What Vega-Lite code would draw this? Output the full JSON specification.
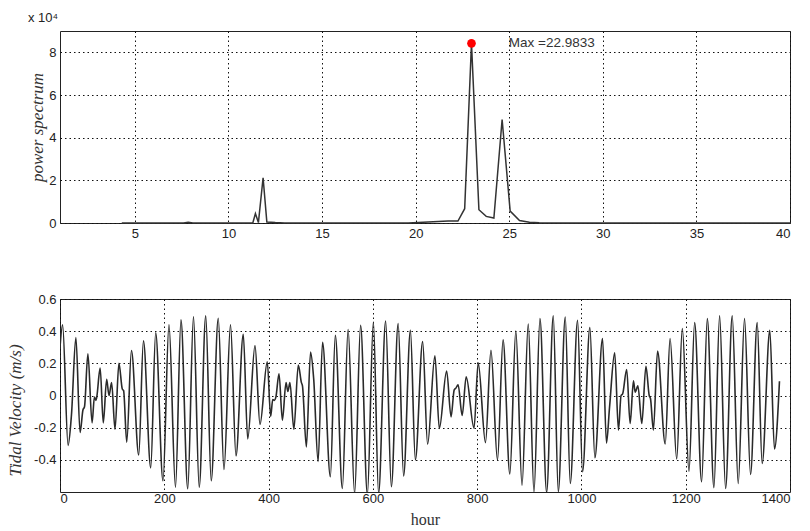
{
  "$schema": "https://vega.github.io/schema/vega-lite/v6.json",
  "background": "white",
  "padding": {"left": 5, "top": 11, "right": 5, "bottom": 5},
  "spacing": 51,
  "config": {
    "view": {"stroke": "#222", "strokeWidth": 1},
    "axis": {
      "labelFont": "Liberation Sans", "labelFontSize": 13, "labelColor": "#222", "labelPadding": 4,
      "titleFont": "Liberation Serif", "titleFontSize": 17, "titleFontStyle": "italic", "titleFontWeight": "normal", "titleColor": "#333",
      "grid": true, "gridColor": "#111", "gridDash": [1.5, 3], "gridWidth": 1, "gridOpacity": 1,
      "domain": false, "ticks": false
    }
  },
  "datasets": {
    "spectrum": [
      {"period": 4.3, "power": 0}, {"period": 7.6, "power": 0}, {"period": 7.85, "power": 0.03}, {"period": 8.1, "power": 0},
      {"period": 11.3, "power": 0}, {"period": 11.44, "power": 0.44}, {"period": 11.6, "power": 0.02}, {"period": 11.85, "power": 2.12},
      {"period": 12.05, "power": 0.05}, {"period": 12.5, "power": 0.02}, {"period": 13, "power": 0}, {"period": 19.6, "power": 0},
      {"period": 21.74, "power": 0.09}, {"period": 22.26, "power": 0.09}, {"period": 22.62, "power": 0.67}, {"period": 22.9833, "power": 8.42},
      {"period": 23.38, "power": 0.62}, {"period": 23.77, "power": 0.31}, {"period": 24.18, "power": 0.23}, {"period": 24.62, "power": 4.85},
      {"period": 25.05, "power": 0.56}, {"period": 25.55, "power": 0.12}, {"period": 26.08, "power": 0.03}, {"period": 26.6, "power": 0.01},
      {"period": 28, "power": 0}, {"period": 40, "power": 0}
    ],
    "maxpoint": [{"period": 22.9833, "power": 8.42, "labelx": 24.98, "label": "Max =22.9833"}],
    "velocity": [
      {"hour": 0, "v": 0.30}, {"hour": 5, "v": 0.44}, {"hour": 15.5, "v": -0.31}, {"hour": 22, "v": -0.12}, {"hour": 30.5, "v": 0.36},
      {"hour": 38.5, "v": -0.23}, {"hour": 44, "v": -0.09}, {"hour": 47, "v": -0.07}, {"hour": 53.5, "v": 0.26}, {"hour": 61.5, "v": -0.17},
      {"hour": 66, "v": -0.01}, {"hour": 69, "v": -0.03}, {"hour": 70.5, "v": -0.01}, {"hour": 77, "v": 0.17}, {"hour": 83, "v": -0.17},
      {"hour": 89.5, "v": 0.10}, {"hour": 94, "v": 0.0}, {"hour": 99, "v": 0.08}, {"hour": 105.5, "v": -0.21}, {"hour": 113, "v": 0.20},
      {"hour": 119.5, "v": 0.04}, {"hour": 122, "v": 0.03}, {"hour": 128, "v": -0.29}, {"hour": 137, "v": 0.28}, {"hour": 151, "v": -0.37},
      {"hour": 160, "v": 0.34}, {"hour": 174, "v": -0.45}, {"hour": 183.5, "v": 0.39}, {"hour": 197.5, "v": -0.53}, {"hour": 209, "v": 0.44},
      {"hour": 221.5, "v": -0.57}, {"hour": 232, "v": 0.47}, {"hour": 245, "v": -0.58}, {"hour": 256, "v": 0.49}, {"hour": 267, "v": -0.57},
      {"hour": 279.5, "v": 0.495}, {"hour": 290, "v": -0.53}, {"hour": 303.5, "v": 0.48}, {"hour": 314.5, "v": -0.46}, {"hour": 327, "v": 0.44},
      {"hour": 337.5, "v": -0.375}, {"hour": 351.5, "v": 0.38}, {"hour": 360, "v": -0.27}, {"hour": 374, "v": 0.31}, {"hour": 383.5, "v": -0.18},
      {"hour": 397.5, "v": 0.21}, {"hour": 404, "v": -0.13}, {"hour": 408, "v": -0.025}, {"hour": 411, "v": -0.03}, {"hour": 414, "v": -0.01},
      {"hour": 420, "v": 0.135}, {"hour": 426.5, "v": -0.153}, {"hour": 433.5, "v": 0.08}, {"hour": 437, "v": 0.025}, {"hour": 441, "v": 0.08},
      {"hour": 448.5, "v": -0.21}, {"hour": 457, "v": 0.19}, {"hour": 463, "v": 0.08}, {"hour": 465, "v": 0.06}, {"hour": 472.5, "v": -0.32},
      {"hour": 480.5, "v": 0.27}, {"hour": 486.5, "v": 0.105}, {"hour": 495, "v": -0.41}, {"hour": 503.5, "v": 0.33}, {"hour": 518.5, "v": -0.505},
      {"hour": 528, "v": 0.375}, {"hour": 541.5, "v": -0.578}, {"hour": 552.5, "v": 0.41}, {"hour": 565, "v": -0.61}, {"hour": 576.5, "v": 0.436},
      {"hour": 589.5, "v": -0.615}, {"hour": 601, "v": 0.457}, {"hour": 611, "v": -0.61}, {"hour": 624.5, "v": 0.463}, {"hour": 635.5, "v": -0.567},
      {"hour": 648.5, "v": 0.447}, {"hour": 659, "v": -0.50}, {"hour": 672, "v": 0.405}, {"hour": 681.5, "v": -0.40}, {"hour": 695.5, "v": 0.335},
      {"hour": 705, "v": -0.303}, {"hour": 719, "v": 0.247}, {"hour": 727.5, "v": -0.205}, {"hour": 741.5, "v": 0.152}, {"hour": 750, "v": -0.133},
      {"hour": 756, "v": 0.035}, {"hour": 759, "v": 0.045}, {"hour": 763.5, "v": 0.066}, {"hour": 771.3, "v": -0.124}, {"hour": 779, "v": 0.116},
      {"hour": 794, "v": -0.203}, {"hour": 802, "v": 0.204}, {"hour": 816, "v": -0.293}, {"hour": 826.5, "v": 0.281}, {"hour": 839, "v": -0.402},
      {"hour": 849.7, "v": 0.347}, {"hour": 862.7, "v": -0.488}, {"hour": 874.2, "v": 0.40}, {"hour": 886.1, "v": -0.557}, {"hour": 898, "v": 0.444},
      {"hour": 909, "v": -0.60}, {"hour": 920.5, "v": 0.478}, {"hour": 933.3, "v": -0.602}, {"hour": 946, "v": 0.495}, {"hour": 955.6, "v": -0.598},
      {"hour": 969, "v": 0.488}, {"hour": 978.6, "v": -0.547}, {"hour": 992.6, "v": 0.468}, {"hour": 1002.2, "v": -0.474}, {"hour": 1016.2, "v": 0.422},
      {"hour": 1025.8, "v": -0.387}, {"hour": 1040.5, "v": 0.354}, {"hour": 1048, "v": -0.296}, {"hour": 1054, "v": -0.07}, {"hour": 1063.8, "v": 0.266},
      {"hour": 1071, "v": -0.215}, {"hour": 1076, "v": 0.0}, {"hour": 1079, "v": 0.01}, {"hour": 1086.8, "v": 0.162}, {"hour": 1093.4, "v": -0.174},
      {"hour": 1099.8, "v": 0.092}, {"hour": 1103, "v": 0.02}, {"hour": 1108.3, "v": 0.06}, {"hour": 1115.8, "v": -0.174}, {"hour": 1123.7, "v": 0.182},
      {"hour": 1130, "v": 0.0}, {"hour": 1132.5, "v": -0.02}, {"hour": 1138, "v": -0.215}, {"hour": 1146, "v": 0.276}, {"hour": 1160.7, "v": -0.302},
      {"hour": 1170, "v": 0.354}, {"hour": 1182.7, "v": -0.395}, {"hour": 1193.5, "v": 0.416}, {"hour": 1206.3, "v": -0.47}, {"hour": 1217.1, "v": 0.453},
      {"hour": 1230.5, "v": -0.536}, {"hour": 1241.4, "v": 0.478}, {"hour": 1254.1, "v": -0.573}, {"hour": 1265, "v": 0.495}, {"hour": 1276.5, "v": -0.578},
      {"hour": 1289.2, "v": 0.495}, {"hour": 1300.7, "v": -0.547}, {"hour": 1312.8, "v": 0.478}, {"hour": 1324.3, "v": -0.491}, {"hour": 1337.1, "v": 0.453},
      {"hour": 1346.6, "v": -0.423}, {"hour": 1361.3, "v": 0.405}, {"hour": 1370.2, "v": -0.333}, {"hour": 1379.8, "v": 0.089}
    ]
  },
  "vconcat": [
    {
      "width": 730, "height": 192,
      "title": {"text": "x 10⁴", "anchor": "start", "font": "Liberation Sans", "fontSize": 13, "fontWeight": "normal", "color": "#222", "offset": 6},
      "layer": [
        {
          "data": {"name": "spectrum"},
          "mark": {"type": "line", "color": "#333", "strokeWidth": 1.5},
          "encoding": {
            "x": {"field": "period", "type": "quantitative", "scale": {"domain": [1, 40], "nice": false, "zero": false}, "axis": {"values": [5, 10, 15, 20, 25, 30, 35, 40], "title": null}},
            "y": {"field": "power", "type": "quantitative", "scale": {"domain": [0, 9], "nice": false}, "axis": {"values": [0, 2, 4, 6, 8], "title": "power spectrum", "titleX": -14}}
          }
        },
        {
          "data": {"name": "maxpoint"},
          "mark": {"type": "point", "filled": true, "color": "#ff0000", "size": 75, "opacity": 1},
          "encoding": {
            "x": {"field": "period", "type": "quantitative"},
            "y": {"field": "power", "type": "quantitative"}
          }
        },
        {
          "data": {"name": "maxpoint"},
          "mark": {"type": "text", "align": "left", "baseline": "middle", "font": "Liberation Sans", "fontSize": 13.5, "color": "#333"},
          "encoding": {
            "x": {"field": "labelx", "type": "quantitative"},
            "y": {"field": "power", "type": "quantitative"},
            "text": {"field": "label"}
          }
        }
      ]
    },
    {
      "width": 730, "height": 193,
      "data": {"name": "velocity"},
      "mark": {"type": "line", "color": "#2a2a2a", "strokeWidth": 1.6, "interpolate": "monotone", "clip": true},
      "encoding": {
        "x": {"field": "hour", "type": "quantitative", "scale": {"domain": [0, 1400], "nice": false}, "axis": {"values": [0, 200, 400, 600, 800, 1000, 1200, 1400], "format": "d", "title": "hour", "titleFontStyle": "normal", "titleFontSize": 16, "titlePadding": 6, "labelPadding": 0}},
        "y": {"field": "v", "type": "quantitative", "scale": {"domain": [-0.6, 0.6], "nice": false, "zero": false}, "axis": {"values": [-0.4, -0.2, 0, 0.2, 0.4, 0.6], "title": "Tidal Velocity (m/s)", "titleX": -36, "titleY": 111, "labelExpr": "datum.value == 0 ? '0' : (datum.value < 0 ? '-' : '') + format(abs(datum.value), '.1f')"}}
      }
    }
  ]
}
